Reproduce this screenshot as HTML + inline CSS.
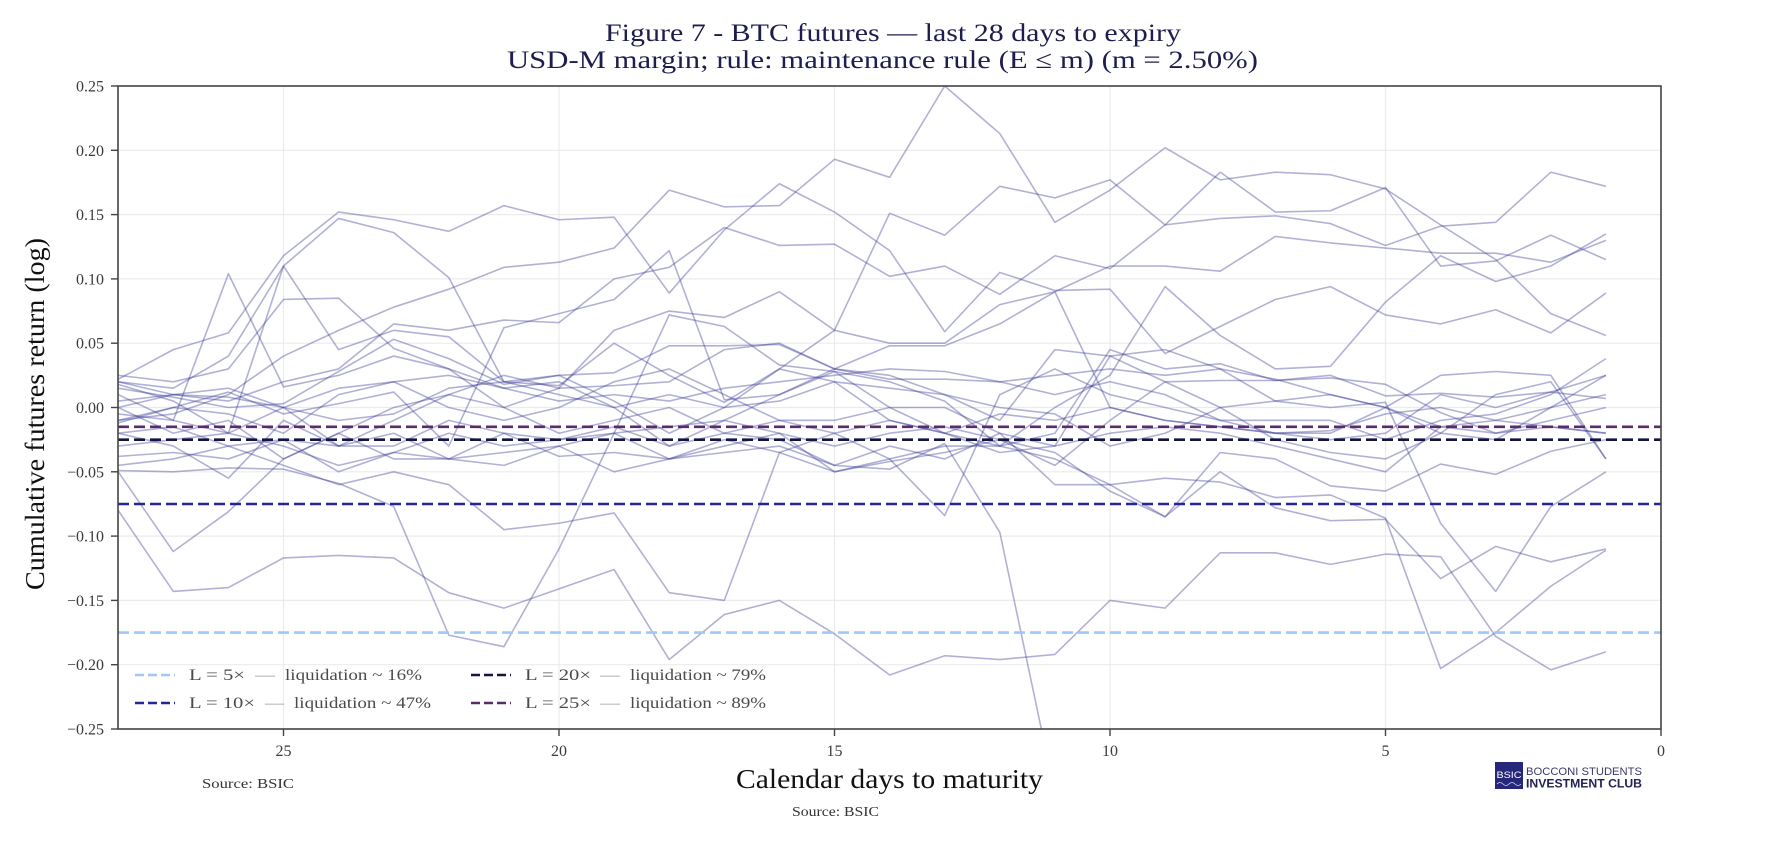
<!DOCTYPE html>
<html>
<head>
<meta charset="utf-8">
<style>
  html, body { margin: 0; padding: 0; background: #ffffff; }
  svg { display: block; }
  .tick { font-family: "Liberation Serif", serif; font-size: 16px; fill: #3a3a3a; }
  .leg { font-family: "Liberation Serif", serif; font-size: 16px; fill: #4a4a4a; }
  .legd { font-family: "Liberation Serif", serif; font-size: 16px; fill: #9a9a9a; }
  .ser polyline { fill: none; stroke: #3b3b95; stroke-opacity: 0.4; stroke-width: 1.6; vector-effect: non-scaling-stroke; stroke-linejoin: round; }
</style>
</head>
<body>
<svg width="1778" height="860" viewBox="0 0 1778 860" xmlns="http://www.w3.org/2000/svg">
  <rect x="0" y="0" width="1778" height="860" fill="#ffffff"/>
  <defs>
    <clipPath id="pc" clipPathUnits="userSpaceOnUse">
      <rect x="118" y="86" width="1543" height="643"/>
    </clipPath>
  </defs>

  <!-- Title -->
  <text x="605" y="41" font-family="Liberation Serif, serif" font-size="25" fill="#1d1d4e" textLength="576" lengthAdjust="spacingAndGlyphs">Figure 7 - BTC futures — last 28 days to expiry</text>
  <text x="507" y="68" font-family="Liberation Serif, serif" font-size="25" fill="#1d1d4e" textLength="751" lengthAdjust="spacingAndGlyphs">USD-M margin; rule: maintenance rule (E ≤ m) (m = 2.50%)</text>

  <!-- Grid -->
  <g stroke="#ebebeb" stroke-width="1.2">
    <line x1="118" y1="150.3" x2="1661" y2="150.3"/>
    <line x1="118" y1="214.6" x2="1661" y2="214.6"/>
    <line x1="118" y1="278.9" x2="1661" y2="278.9"/>
    <line x1="118" y1="343.2" x2="1661" y2="343.2"/>
    <line x1="118" y1="407.5" x2="1661" y2="407.5"/>
    <line x1="118" y1="471.8" x2="1661" y2="471.8"/>
    <line x1="118" y1="536.1" x2="1661" y2="536.1"/>
    <line x1="118" y1="600.4" x2="1661" y2="600.4"/>
    <line x1="118" y1="664.7" x2="1661" y2="664.7"/>
    <line x1="283.5" y1="86" x2="283.5" y2="729"/>
    <line x1="559" y1="86" x2="559" y2="729"/>
    <line x1="834.5" y1="86" x2="834.5" y2="729"/>
    <line x1="1110" y1="86" x2="1110" y2="729"/>
    <line x1="1385.5" y1="86" x2="1385.5" y2="729"/>
  </g>

  <!-- Series -->
  <g clip-path="url(#pc)">
    <g class="ser" transform="translate(1661 407.5) scale(-55.1 -1286)">
      <polyline points="28,-0.01 27,-0.005 26,0.01 25,0.04 24,0.06 23,0.078 22,0.092 21,0.109 20,0.113 19,0.124 18,0.169 17,0.156 16,0.157 15,0.193 14,0.179 13,0.25 12,0.213 11,0.144 10,0.169 9,0.202 8,0.177 7,0.183 6,0.181 5,0.17 4,0.142 3,0.115 2,0.073 1,0.056"/>
      <polyline points="28,0.022 27,0.045 26,0.058 25,0.118 24,0.152 23,0.146 22,0.137 21,0.157 20,0.146 19,0.148 18,0.089 17,0.138 16,0.174 15,0.152 14,0.122 13,0.059 12,0.105 11,0.091 10,0.092 9,0.042 8,0.063 7,0.084 6,0.094 5,0.072 4,0.065 3,0.076 2,0.058 1,0.089"/>
      <polyline points="28,0.018 27,0.005 26,-0.02 25,0.11 24,0.147 23,0.136 22,0.101 21,0.02 20,0.017 19,0.05 18,0.025 17,0.004 16,0.03 15,0.02 14,-0.01 13,-0.02 12,-0.03 11,0.0 10,0.025 9,0.094 8,0.056 7,0.03 6,0.032 5,0.082 4,0.118 3,0.098 2,0.11 1,0.135"/>
      <polyline points="28,-0.005 27,-0.01 26,0.104 25,0.016 24,0.025 23,0.04 22,0.03 21,0.015 20,0.02 19,0.0 18,-0.03 17,-0.01 16,0.01 15,0.03 14,0.048 13,0.048 12,0.065 11,0.09 10,0.0 9,-0.01 8,-0.015 7,-0.02 6,-0.025 5,-0.02 4,0.01 3,0.0 2,0.012 1,0.025"/>
      <polyline points="28,-0.012 27,0.0 26,0.012 25,-0.005 24,0.003 23,0.012 22,-0.03 21,0.062 20,0.073 19,0.084 18,0.122 17,0.006 16,0.01 15,0.028 14,0.02 13,0.005 12,-0.03 11,-0.02 10,0.045 9,0.03 8,0.034 7,0.021 6,0.025 5,0.009 4,0.011 3,0.008 2,0.012 1,0.007"/>
      <polyline points="28,0.025 27,0.02 26,0.03 25,0.084 24,0.085 23,0.046 22,0.03 21,0.0 20,0.015 19,0.017 18,0.02 17,0.045 16,0.05 15,0.03 14,0.025 13,0.01 12,-0.01 11,0.045 10,0.04 9,0.02 8,0.021 7,0.021 6,0.023 5,0.018 4,-0.004 3,-0.02 2,-0.01 1,0.0"/>
      <polyline points="28,0.0 27,0.01 26,0.005 25,0.02 24,0.03 23,0.065 22,0.06 21,0.068 20,0.066 19,0.1 18,0.109 17,0.14 16,0.126 15,0.127 14,0.102 13,0.11 12,0.088 11,0.118 10,0.108 9,0.142 8,0.147 7,0.149 6,0.143 5,0.126 4,0.141 3,0.144 2,0.183 1,0.172"/>
      <polyline points="28,0.01 27,-0.01 26,-0.02 25,0.0 24,-0.03 23,-0.01 22,0.01 21,0.025 20,0.015 19,0.06 18,0.075 17,0.07 16,0.09 15,0.06 14,0.05 13,0.05 12,0.08 11,0.09 10,0.11 9,0.11 8,0.106 7,0.133 6,0.128 5,0.124 4,0.12 3,0.12 2,0.113 1,0.13"/>
      <polyline points="28,0.02 27,0.015 26,0.04 25,0.11 24,0.045 23,0.06 22,0.055 21,0.02 20,0.025 19,0.005 18,-0.02 17,0.0 16,0.03 15,0.06 14,0.151 13,0.134 12,0.172 11,0.163 10,0.177 9,0.142 8,0.183 7,0.152 6,0.153 5,0.171 4,0.11 3,0.114 2,0.134 1,0.115"/>
      <polyline points="28,0.015 27,0.008 26,0.0 25,0.003 24,0.028 23,0.053 22,0.038 21,0.018 20,0.025 19,0.027 18,0.048 17,0.048 16,0.049 15,0.03 14,0.022 13,0.022 12,0.02 11,0.025 10,0.03 9,0.025 8,0.03 7,0.022 6,0.01 5,0.0 4,-0.015 3,-0.01 2,0.0 1,0.01"/>
      <polyline points="28,-0.02 27,-0.03 26,-0.055 25,-0.01 24,-0.03 23,-0.02 22,-0.04 21,-0.02 20,-0.025 19,-0.015 18,-0.03 17,-0.02 16,-0.025 15,-0.045 14,-0.03 13,-0.04 12,-0.02 11,-0.03 10,-0.02 9,-0.015 8,-0.02 7,-0.03 6,-0.04 5,-0.05 4,-0.015 3,-0.02 2,-0.015 1,-0.02"/>
      <polyline points="28,-0.038 27,-0.035 26,-0.04 25,-0.025 24,-0.03 23,-0.03 22,-0.01 21,-0.02 20,-0.038 19,-0.035 18,-0.04 17,-0.025 16,-0.035 15,-0.05 14,-0.042 13,-0.035 12,-0.025 11,-0.045 10,-0.01 9,0.02 8,0.0 7,-0.025 6,-0.035 5,-0.04 4,-0.02 3,0.01 2,0.02 1,-0.04"/>
      <polyline points="28,-0.049 27,-0.05 26,-0.047 25,-0.048 24,-0.059 23,-0.077 22,-0.177 21,-0.186 20,-0.11 19,-0.02 18,0.072 17,0.063 16,0.033 15,0.028 14,0.0 13,-0.02 12,-0.035 11,-0.03 10,0.04 9,0.045 8,0.03 7,0.005 6,0.01 5,0.0 4,-0.02 3,-0.025 2,0.0 1,0.025"/>
      <polyline points="28,-0.08 27,-0.143 26,-0.14 25,-0.117 24,-0.115 23,-0.117 22,-0.144 21,-0.156 20,-0.141 19,-0.126 18,-0.196 17,-0.161 16,-0.15 15,-0.176 14,-0.208 13,-0.193 12,-0.196 11,-0.192 10,-0.15 9,-0.156 8,-0.113 7,-0.113 6,-0.122 5,-0.114 4,-0.116 3,-0.178 2,-0.204 1,-0.19"/>
      <polyline points="28,-0.02 27,-0.015 26,-0.03 25,-0.025 24,-0.05 23,-0.035 22,-0.04 21,-0.045 20,-0.03 19,-0.05 18,-0.04 17,-0.035 16,-0.03 15,-0.045 14,-0.048 13,-0.028 12,-0.097 11,-0.3"/>
      <polyline points="28,0.0 27,-0.02 26,-0.01 25,-0.04 24,-0.02 23,0.0 22,0.01 21,0.0 20,-0.02 19,-0.01 18,0.0 17,-0.02 16,-0.01 15,-0.02 14,-0.04 13,-0.084 12,0.01 11,0.03 10,0.01 9,0.0 8,-0.01 7,-0.02 6,-0.02 5,0.0 4,0.025 3,0.028 2,0.025 1,-0.04"/>
      <polyline points="28,-0.05 27,-0.112 26,-0.081 25,-0.04 24,-0.02 23,-0.04 22,-0.04 21,-0.035 20,-0.03 19,-0.02 18,-0.04 17,-0.03 16,-0.02 15,-0.05 14,-0.04 13,-0.03 12,-0.03 11,-0.04 10,-0.06 9,-0.085 8,-0.05 7,-0.078 6,-0.088 5,-0.087 4,-0.133 3,-0.108 2,-0.12 1,-0.11"/>
      <polyline points="28,-0.01 27,0.0 26,-0.005 25,-0.02 24,0.01 23,0.02 22,0.0 21,-0.01 20,0.0 19,0.02 18,0.03 17,0.01 16,-0.01 15,-0.01 14,0.0 13,0.0 12,-0.02 11,-0.06 10,-0.06 9,-0.055 8,-0.058 7,-0.07 6,-0.068 5,-0.086 4,-0.203 3,-0.175 2,-0.139 1,-0.111"/>
      <polyline points="28,0.02 27,0.01 26,0.015 25,0.0 24,-0.01 23,-0.005 22,0.015 21,0.02 20,0.01 19,0.0 18,0.01 17,0.0 16,0.005 15,0.02 14,0.015 13,0.01 12,0.0 11,-0.005 10,-0.03 9,-0.02 8,0.0 7,0.005 6,0.0 5,0.004 4,-0.09 3,-0.143 2,-0.077 1,-0.05"/>
      <polyline points="28,-0.03 27,-0.025 26,-0.02 25,-0.03 24,-0.045 23,-0.035 22,-0.02 21,-0.03 20,-0.025 19,-0.02 18,-0.015 17,-0.01 16,-0.02 15,-0.03 14,-0.02 13,-0.015 12,-0.025 11,-0.035 10,-0.065 9,-0.085 8,-0.035 7,-0.04 6,-0.061 5,-0.065 4,-0.044 3,-0.052 2,-0.034 1,-0.025"/>
      <polyline points="28,0.005 27,0.01 26,0.008 25,0.0 24,0.015 23,0.02 22,0.025 21,0.015 20,0.005 19,0.01 18,0.005 17,0.015 16,0.02 15,0.025 14,0.03 13,0.028 12,0.02 11,0.01 10,0.02 9,0.01 8,-0.01 7,-0.01 6,-0.01 5,-0.025 4,-0.01 3,-0.005 2,0.01 1,0.038"/>
      <polyline points="28,-0.045 27,-0.04 26,-0.03 25,-0.045 24,-0.06 23,-0.05 22,-0.06 21,-0.095 20,-0.09 19,-0.082 18,-0.144 17,-0.15 16,-0.035 15,-0.02 14,-0.01 13,-0.02 12,-0.005 11,-0.01 10,0.0 9,-0.01 8,-0.015 7,-0.02 6,-0.018 5,-0.005 4,0.0 3,-0.01 2,-0.015 1,-0.02"/>
    </g>
  </g>

  <!-- Threshold dashed lines -->
  <g stroke-width="2.6" stroke-dasharray="11 5" fill="none">
    <line x1="118" y1="426.8" x2="1661" y2="426.8" stroke="#5c2a6b"/>
    <line x1="118" y1="439.7" x2="1661" y2="439.7" stroke="#141442"/>
    <line x1="118" y1="504" x2="1661" y2="504" stroke="#25259a"/>
    <line x1="118" y1="632.6" x2="1661" y2="632.6" stroke="#9ec8f7"/>
  </g>

  <!-- Spines -->
  <rect x="118" y="86" width="1543" height="643" fill="none" stroke="#444" stroke-width="1.6"/>

  <!-- Y ticks -->
  <g stroke="#444" stroke-width="1.4">
    <line x1="111" y1="86" x2="118" y2="86"/>
    <line x1="111" y1="150.3" x2="118" y2="150.3"/>
    <line x1="111" y1="214.6" x2="118" y2="214.6"/>
    <line x1="111" y1="278.9" x2="118" y2="278.9"/>
    <line x1="111" y1="343.2" x2="118" y2="343.2"/>
    <line x1="111" y1="407.5" x2="118" y2="407.5"/>
    <line x1="111" y1="471.8" x2="118" y2="471.8"/>
    <line x1="111" y1="536.1" x2="118" y2="536.1"/>
    <line x1="111" y1="600.4" x2="118" y2="600.4"/>
    <line x1="111" y1="664.7" x2="118" y2="664.7"/>
    <line x1="111" y1="729" x2="118" y2="729"/>
    <line x1="283.5" y1="729" x2="283.5" y2="736"/>
    <line x1="559" y1="729" x2="559" y2="736"/>
    <line x1="834.5" y1="729" x2="834.5" y2="736"/>
    <line x1="1110" y1="729" x2="1110" y2="736"/>
    <line x1="1385.5" y1="729" x2="1385.5" y2="736"/>
    <line x1="1661" y1="729" x2="1661" y2="736"/>
  </g>
  <g class="tick" text-anchor="end">
    <text x="104" y="91.5">0.25</text>
    <text x="104" y="155.8">0.20</text>
    <text x="104" y="220.1">0.15</text>
    <text x="104" y="284.4">0.10</text>
    <text x="104" y="348.7">0.05</text>
    <text x="104" y="413">0.00</text>
    <text x="104" y="477.3">−0.05</text>
    <text x="104" y="541.6">−0.10</text>
    <text x="104" y="605.9">−0.15</text>
    <text x="104" y="670.2">−0.20</text>
    <text x="104" y="734.5">−0.25</text>
  </g>
  <g class="tick" text-anchor="middle">
    <text x="283.5" y="756">25</text>
    <text x="559" y="756">20</text>
    <text x="834.5" y="756">15</text>
    <text x="1110" y="756">10</text>
    <text x="1385.5" y="756">5</text>
    <text x="1661" y="756">0</text>
  </g>

  <!-- Axis labels -->
  <text transform="translate(44 590) rotate(-90)" font-family="Liberation Serif, serif" font-size="27" fill="#111" textLength="352" lengthAdjust="spacingAndGlyphs">Cumulative futures return (log)</text>
  <text x="736" y="788" font-family="Liberation Serif, serif" font-size="27" fill="#111" textLength="307" lengthAdjust="spacingAndGlyphs">Calendar days to maturity</text>

  <!-- Sources -->
  <text x="202" y="788" font-family="Liberation Serif, serif" font-size="14" fill="#333" textLength="92" lengthAdjust="spacingAndGlyphs">Source: BSIC</text>
  <text x="792" y="816" font-family="Liberation Serif, serif" font-size="14" fill="#333" textLength="87" lengthAdjust="spacingAndGlyphs">Source: BSIC</text>

  <!-- Legend -->
  <g stroke-width="2.6" stroke-dasharray="9 4">
    <line x1="135" y1="675" x2="175" y2="675" stroke="#9ec8f7"/>
    <line x1="135" y1="703" x2="175" y2="703" stroke="#25259a"/>
    <line x1="471" y1="675" x2="511" y2="675" stroke="#141442"/>
    <line x1="471" y1="703" x2="511" y2="703" stroke="#5c2a6b"/>
  </g>
  <text class="leg" x="189" y="680" textLength="56" lengthAdjust="spacingAndGlyphs">L = 5×</text>
  <text class="legd" x="255" y="680" textLength="20" lengthAdjust="spacingAndGlyphs">—</text>
  <text class="leg" x="285" y="680" textLength="137" lengthAdjust="spacingAndGlyphs">liquidation ~ 16%</text>

  <text class="leg" x="189" y="708" textLength="66" lengthAdjust="spacingAndGlyphs">L = 10×</text>
  <text class="legd" x="265" y="708" textLength="19" lengthAdjust="spacingAndGlyphs">—</text>
  <text class="leg" x="294" y="708" textLength="137" lengthAdjust="spacingAndGlyphs">liquidation ~ 47%</text>

  <text class="leg" x="525" y="680" textLength="66" lengthAdjust="spacingAndGlyphs">L = 20×</text>
  <text class="legd" x="600" y="680" textLength="20" lengthAdjust="spacingAndGlyphs">—</text>
  <text class="leg" x="630" y="680" textLength="136" lengthAdjust="spacingAndGlyphs">liquidation ~ 79%</text>

  <text class="leg" x="525" y="708" textLength="66" lengthAdjust="spacingAndGlyphs">L = 25×</text>
  <text class="legd" x="600" y="708" textLength="20" lengthAdjust="spacingAndGlyphs">—</text>
  <text class="leg" x="630" y="708" textLength="136" lengthAdjust="spacingAndGlyphs">liquidation ~ 89%</text>

  <!-- Logo -->
  <rect x="1495" y="762" width="28" height="27" fill="#26267a"/>
  <text x="1509" y="778" text-anchor="middle" font-family="Liberation Sans, sans-serif" font-size="9" fill="#ffffff" textLength="25" lengthAdjust="spacingAndGlyphs">BSIC</text>
  <path d="M1497 784 q3 -3 6 0 t6 0 t6 0 t6 0" stroke="#ffffff" stroke-width="0.8" fill="none" opacity="0.8"/>
  <text x="1526" y="775" font-family="Liberation Sans, sans-serif" font-size="11" fill="#3a3a6a" textLength="116" lengthAdjust="spacingAndGlyphs">BOCCONI STUDENTS</text>
  <text x="1526" y="787.5" font-family="Liberation Sans, sans-serif" font-size="11.5" font-weight="bold" fill="#222255" textLength="116" lengthAdjust="spacingAndGlyphs">INVESTMENT CLUB</text>
</svg>
</body>
</html>
